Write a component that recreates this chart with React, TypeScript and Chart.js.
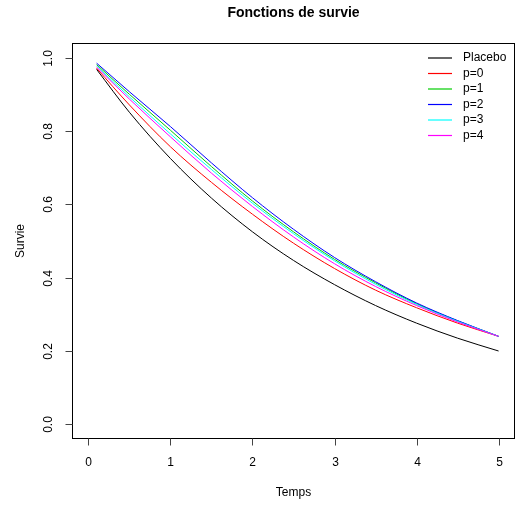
import React, { useEffect, useRef } from "react";
import { Chart, registerables } from "chart.js";

Chart.register(...registerables);

const TIMES = [0.1, 0.5, 1, 1.5, 2, 2.5, 3, 3.5, 4, 4.5, 5];
const PLACEBO = [0.968, 0.851, 0.725, 0.617, 0.525, 0.447, 0.381, 0.324, 0.276, 0.235, 0.2];
const P0 = [0.971, 0.871, 0.757, 0.66, 0.573, 0.494, 0.425, 0.366, 0.318, 0.276, 0.24];
const P1 = [0.981, 0.9, 0.802, 0.703, 0.609, 0.525, 0.45, 0.386, 0.329, 0.282, 0.24];
const P2 = [0.985, 0.907, 0.812, 0.713, 0.618, 0.532, 0.455, 0.389, 0.331, 0.283, 0.24];
const P3 = [0.977, 0.893, 0.792, 0.695, 0.603, 0.52, 0.446, 0.382, 0.327, 0.281, 0.24];
const P4 = [0.974, 0.887, 0.784, 0.685, 0.594, 0.511, 0.438, 0.376, 0.324, 0.279, 0.24];

const SERIES_NAMES = ["Placebo", "p=0", "p=1", "p=2", "p=3", "p=4"];
const SERIES_VALUES = [PLACEBO, P0, P1, P2, P3, P4];
const SERIES_COLORS = ["#000000", "#FF0000", "#00CD00", "#0000FF", "#00FFFF", "#FF00FF"];

const X_TICKS = [0, 1, 2, 3, 4, 5];
const Y_TICKS = [0, 0.2, 0.4, 0.6, 0.8, 1.0];

const TITLE = "Fonctions de survie";
const X_LABEL = "Temps";
const Y_LABEL = "Survie";

const FONT = "'Liberation Sans', Arial, Helvetica, sans-serif";

const rAxesPlugin = {
  id: "rAxes",
  afterDraw(chart: any) {
    const ctx = chart.ctx;
    const { left, right, top, bottom } = chart.chartArea;
    const xs = chart.scales.x;
    const ys = chart.scales.y;
    ctx.save();
    // box
    ctx.strokeStyle = "#000";
    ctx.lineWidth = 1;
    ctx.strokeRect(Math.round(left) + 0.5, Math.round(top) + 0.5, Math.round(right - left) - 1, Math.round(bottom - top) - 1);
    const by = Math.round(bottom) - 0.5;
    const lx = Math.round(left) + 0.5;
    // x ticks
    ctx.fillStyle = "#000";
    ctx.font = `12px ${FONT}`;
    ctx.textAlign = "center";
    ctx.textBaseline = "middle";
    ctx.strokeStyle = "#444";
    X_TICKS.forEach((v) => {
      const px = Math.round(xs.getPixelForValue(v)) + 0.5;
      ctx.beginPath();
      ctx.moveTo(px, by);
      ctx.lineTo(px, by + 7);
      ctx.stroke();
      ctx.fillText(String(v), px, 463);
    });
    // y ticks
    Y_TICKS.forEach((v) => {
      const py = Math.round(ys.getPixelForValue(v)) + 0.5;
      ctx.beginPath();
      ctx.moveTo(lx, py);
      ctx.lineTo(lx - 7, py);
      ctx.stroke();
      ctx.save();
      ctx.translate(49, py);
      ctx.rotate(-Math.PI / 2);
      ctx.fillText(v.toFixed(1), 0, 0);
      ctx.restore();
    });
    // axis titles
    const cx = (left + right) / 2;
    const cy = (top + bottom) / 2;
    ctx.fillText(X_LABEL, cx, 493);
    ctx.save();
    ctx.translate(21, cy);
    ctx.rotate(-Math.PI / 2);
    ctx.fillText(Y_LABEL, 0, 0);
    ctx.restore();
    // main title
    ctx.font = `bold 14px ${FONT}`;
    ctx.fillText(TITLE, cx, 13);
    // legend
    ctx.font = `12px ${FONT}`;
    ctx.textAlign = "left";
    SERIES_NAMES.forEach((name, i) => {
      const y = 58 + i * 15.5;
      ctx.strokeStyle = SERIES_COLORS[i];
      ctx.lineWidth = 1.2;
      ctx.beginPath();
      ctx.moveTo(428, y);
      ctx.lineTo(452, y);
      ctx.stroke();
      ctx.fillStyle = "#000";
      ctx.fillText(name, 463, y);
    });
    ctx.restore();
  },
};

export default function App() {
  const ref = useRef<HTMLCanvasElement | null>(null);
  useEffect(() => {
    if (!ref.current) return;
    const datasets = SERIES_NAMES.map((name, i) => ({
      label: name,
      data: TIMES.map((t, j) => ({ x: t, y: SERIES_VALUES[i][j] })),
      borderColor: SERIES_COLORS[i],
      backgroundColor: SERIES_COLORS[i],
      borderWidth: 1,
      pointRadius: 0,
      fill: false,
      cubicInterpolationMode: "monotone" as const,
      order: SERIES_NAMES.length - i,
    }));
    const chart = new Chart(ref.current, {
      type: "line",
      data: { datasets },
      options: {
        responsive: false,
        animation: false,
        devicePixelRatio: 1,
        layout: { padding: { left: 72, top: 43, right: 1, bottom: 67 } },
        plugins: { legend: { display: false }, title: { display: false }, tooltip: { enabled: false } },
        scales: {
          x: { type: "linear", min: -0.2, max: 5.2, display: false },
          y: { type: "linear", min: -0.04, max: 1.04, display: false },
        },
      },
      plugins: [rAxesPlugin],
    });
    return () => chart.destroy();
  }, []);
  return (
    <canvas
      ref={ref}
      width={516}
      height={506}
      style={{ position: "absolute", left: 0, top: 0, width: 516, height: 506, background: "#fff" }}
    />
  );
}
